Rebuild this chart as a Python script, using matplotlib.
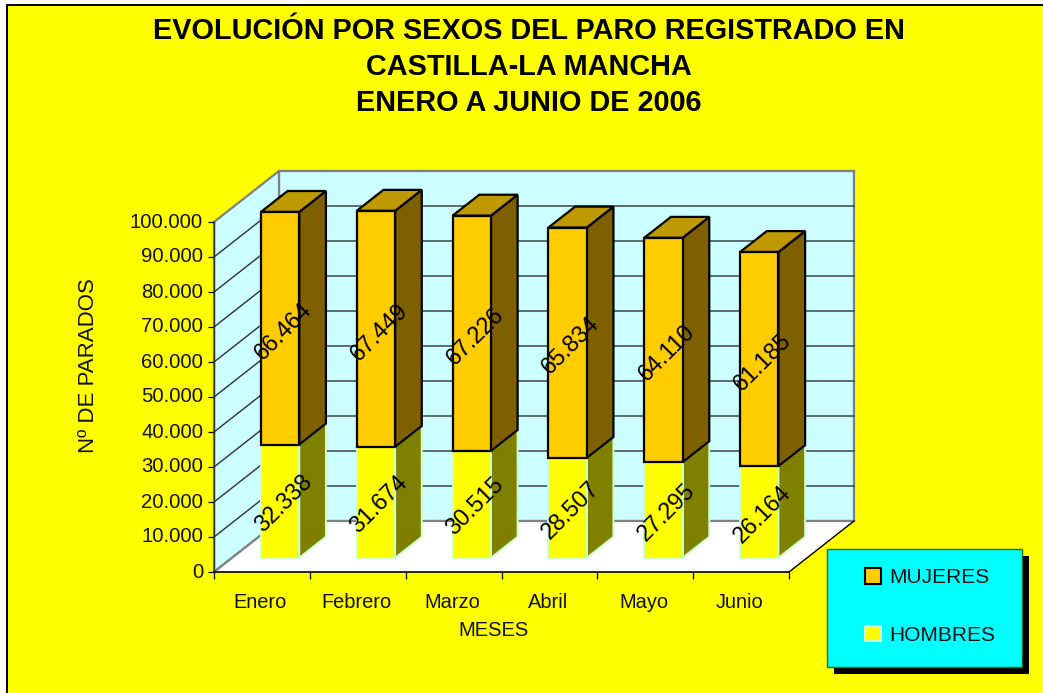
import matplotlib
matplotlib.use("Agg")
import matplotlib.pyplot as plt
from matplotlib.patches import Polygon, Rectangle
from matplotlib.transforms import ScaledTranslation

plt.rcParams['font.family'] = ['Liberation Sans', 'DejaVu Sans']

months = ["Enero", "Febrero", "Marzo", "Abril", "Mayo", "Junio"]
hombres = [32338, 31674, 30515, 28507, 27295, 26164]
mujeres = [66464, 67449, 67226, 65834, 64110, 61185]
y_ticks = list(range(0, 100001, 10000))
title = "EVOLUCIÓN POR SEXOS DEL PARO REGISTRADO EN\nCASTILLA-LA MANCHA\nENERO A JUNIO DE 2006"

W, H = 1043, 693
fig = plt.figure(figsize=(W / 100, H / 100), dpi=100, facecolor="white")


def fx(p):
    return p / W


def fy(p):
    return 1 - p / H


# chart area
fig.add_artist(Rectangle((fx(7), fy(H + 20)), fx(W + 20), (H + 20 - 5) / H, transform=fig.transFigure,
                         facecolor="#FFFF00", edgecolor="black", linewidth=1.4, zorder=-5))

# front plane of the 3D box
L, R, T, B = 214, 789, 222, 572
ax = fig.add_axes([fx(L), fy(B), (R - L) / W, (B - T) / H])
ax.patch.set_alpha(0)
ax.set_xlim(0, 6)
ax.set_ylim(0, 100000)

DX = 65 / ((R - L) / 6)      # full depth, in categories
DY = 51 / ((B - T) / 100000) # full depth, in value units
YMAX = 100000
N = len(months)


def at(x, y, d):
    return (x + d * DX, y + d * DY)


# walls and floor
ax.add_patch(Polygon([at(0, 0, 1), at(N, 0, 1), at(N, YMAX, 1), at(0, YMAX, 1)], closed=True,
                     facecolor="#CCFFFF", edgecolor="#808080", linewidth=1.6, zorder=1, clip_on=False))
ax.add_patch(Polygon([at(0, 0, 0), at(0, 0, 1), at(0, YMAX, 1), at(0, YMAX, 0)], closed=True,
                     facecolor="#CCFFFF", edgecolor="#808080", linewidth=1.6, zorder=1, clip_on=False))
ax.add_patch(Polygon([at(0, 0, 0), at(N, 0, 0), at(N, 0, 1), at(0, 0, 1)], closed=True,
                     facecolor="white", edgecolor="none", zorder=1.5, clip_on=False))
ax.plot(*zip(at(0, 0, 0), at(0, 0, 1)), color="#808080", lw=1.6, zorder=1.7, clip_on=False)
ax.plot(*zip(at(0, 0, 1), at(N, 0, 1)), color="#808080", lw=1.6, zorder=1.7, clip_on=False)
ax.plot(*zip(at(N, 0, 1), at(N, 0, 0)), color="black", lw=1.0, zorder=1.7, clip_on=False)

# gridlines
for v in y_ticks[1:-1]:
    ax.plot(*zip(at(0, v, 0), at(0, v, 1), at(N, v, 1)), color="#303030", lw=1.0, zorder=2, clip_on=False)
ax.plot(*zip(at(0, YMAX, 1), at(N, YMAX, 1)), color="#808080", lw=1.6, zorder=2, clip_on=False)

# bars
D0, D1 = 0.28, 0.69
BAR_W = 0.40
EDGE_H = "#CCFFCC"
EDGE_M = "black"
LABEL_SIZE = 16.8
for i in range(N):
    left = i + 0.5 - BAR_W / 2
    right = left + BAR_W
    h = hombres[i]
    m = mujeres[i]
    t = h + m
    ax.add_patch(Polygon([at(right, 0, D0), at(right, 0, D1), at(right, h, D1), at(right, h, D0)], closed=True,
                         facecolor="#808000", edgecolor=EDGE_H, linewidth=1.4, zorder=3, clip_on=False))
    ax.add_patch(Polygon([at(right, h, D0), at(right, h, D1), at(right, t, D1), at(right, t, D0)], closed=True,
                         facecolor="#7F6000", edgecolor=EDGE_M, linewidth=1.6, zorder=3.2, clip_on=False))
    ax.add_patch(Polygon([at(left, t, D0), at(right, t, D0), at(right, t, D1), at(left, t, D1)], closed=True,
                         facecolor="#BF9900", edgecolor=EDGE_M, linewidth=1.6, zorder=3.2, clip_on=False))
    ox, oy = at(i + 0.5, 0, D0)
    ax.bar(ox, h, BAR_W, bottom=oy, color="#FFFF00", edgecolor=EDGE_H, linewidth=1.4, zorder=3.5, clip_on=False)
    ax.bar(ox, m, BAR_W, bottom=oy + h, color="#FFCC00", edgecolor=EDGE_M, linewidth=1.6, zorder=3.6, clip_on=False)
    ax.annotate(f"{h:,}".replace(",", "."), (ox, oy + h / 2), xytext=(2.2, -1.5), textcoords="offset points",
                rotation=45, ha="center", va="center", rotation_mode="anchor", fontsize=LABEL_SIZE,
                color="black", zorder=6, annotation_clip=False)
    ax.annotate(f"{m:,}".replace(",", "."), (ox, oy + h + m / 2), xytext=(2.2, -2.2), textcoords="offset points",
                rotation=45, ha="center", va="center", rotation_mode="anchor", fontsize=LABEL_SIZE,
                color="black", zorder=6, annotation_clip=False)

# axes furniture
for s in ("top", "right"):
    ax.spines[s].set_visible(False)
ax.spines["left"].set_linewidth(1.0)
ax.spines["bottom"].set_linewidth(1.2)
ax.spines["left"].set_color("#303030")
ax.spines["left"].set_zorder(2.5)
ax.spines["bottom"].set_zorder(2.5)
ax.set_yticks(y_ticks)
ax.set_yticklabels([f"{v:,}".replace(",", ".") for v in y_ticks], fontsize=14.6, color="#111111")
ax.tick_params(axis="y", length=4.3, width=0.9, pad=3.6)
ax.set_xticks([i + 0.5 for i in range(N)])
ax.set_xticklabels(months, fontsize=14.4, color="#111111")
ax.set_xticks(range(N + 1), minor=True)
ax.tick_params(axis="x", which="major", length=0, pad=15)
ax.tick_params(axis="x", which="minor", length=5, width=0.9)
for lab in ax.get_yticklabels():
    lab.set_transform(lab.get_transform() + ScaledTranslation(0, 2 / 100, fig.dpi_scale_trans))
for lab in ax.get_xticklabels():
    lab.set_transform(lab.get_transform() + ScaledTranslation(-1.5 / 100, 0, fig.dpi_scale_trans))

fig.text(fx(493), fy(631), "MESES", ha="center", va="center", fontsize=14.5, color="#111111")
fig.text(fx(88), fy(366), "Nº DE PARADOS", ha="center", va="center", rotation=90, fontsize=16, color="#111111")
fig.text(fx(529), fy(67), title, ha="center", va="center", fontsize=20.8, fontweight="bold",
         color="black", linespacing=1.36)

# legend
fig.add_artist(Rectangle((fx(834), fy(674)), 195 / W, 118 / H, transform=fig.transFigure,
                         facecolor="black", edgecolor="none", zorder=10))
fig.add_artist(Rectangle((fx(827), fy(667)), 195 / W, 118 / H, transform=fig.transFigure,
                         facecolor="#00FFFF", edgecolor="#336600", linewidth=1.0, zorder=11))
handles = [Rectangle((0, 0), 1, 1, facecolor="#FFCC00", edgecolor="black", linewidth=1.5),
           Rectangle((0, 0), 1, 1, facecolor="#FFFF00", edgecolor=EDGE_H, linewidth=1.5)]
leg = fig.legend(handles, ["MUJERES", "HOMBRES"], loc="center left", bbox_to_anchor=(fx(865), fy(606.5)),
                 frameon=False, fontsize=15, labelspacing=1.84, handlelength=0.75, handleheight=0.75,
                 handletextpad=0.43, borderpad=0, borderaxespad=0, labelcolor="#111111")
leg.set_zorder(20)

fig.savefig("out.png", dpi=100, facecolor=fig.get_facecolor())
